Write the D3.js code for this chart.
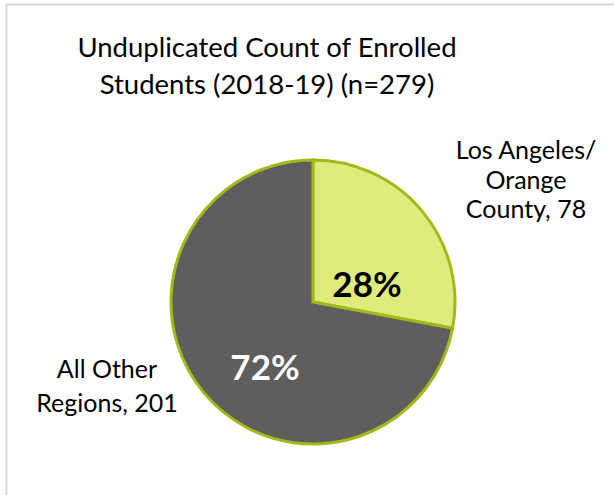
<!DOCTYPE html>
<html>
<head>
<meta charset="utf-8">
<script src="https://cdn.jsdelivr.net/npm/d3@7"></script>
<style>
  html, body { margin: 0; padding: 0; background: #fff; }
  svg { display: block; }
</style>
</head>
<body>
<svg id="chart" width="614" height="495"></svg>
<script>
const titleLines = ["Unduplicated Count of Enrolled", "Students (2018-19) (n=279)"];
const categories = ["Los Angeles/ Orange County", "All Other Regions"];
const labelLines = [["Los Angeles/", "Orange", "County, 78"], ["All Other", "Regions, 201"]];
const values = [78, 201];
const colors = ["#dfeb7b", "#5e5e5e"];
const pctColors = ["#000000", "#ffffff"];

const W = 614, H = 495;
const svg = d3.select("#chart");
const font = "Lato, 'Open Sans', sans-serif";

// outer chart border
svg.append("rect")
  .attr("x", 6.5).attr("y", 4.5)
  .attr("width", W + 10).attr("height", H + 10)
  .attr("fill", "#fff").attr("stroke", "#d9d9d9").attr("stroke-width", 2);

// title
const title = svg.append("text")
  .attr("text-anchor", "middle")
  .attr("font-family", font)
  .attr("font-size", 27.5)
  .attr("fill", "#000");
titleLines.forEach((t, i) => {
  title.append("tspan").attr("x", 267).attr("y", 57 + i * 37).text(t);
});

const cx = 313, cy = 302, r = 142;
const total = d3.sum(values);
const pie = d3.pie().sort(null).value(d => d)(values);
const arc = d3.arc().innerRadius(0).outerRadius(r);

const g = svg.append("g").attr("transform", `translate(${cx},${cy})`);
g.selectAll("path.slice")
  .data(pie)
  .enter().append("path")
  .attr("class", "slice")
  .attr("d", arc)
  .attr("fill", (d, i) => colors[i])
  .attr("stroke", "#a4b919")
  .attr("stroke-width", 3)
  .attr("stroke-linejoin", "miter");

// percentage labels (inside)
const pctPos = [[54, -5], [-48, 78]];
g.selectAll("text.pct")
  .data(pie)
  .enter().append("text")
  .attr("class", "pct")
  .attr("x", (d, i) => pctPos[i][0])
  .attr("y", (d, i) => pctPos[i][1])
  .attr("text-anchor", "middle")
  .attr("font-family", font)
  .attr("font-weight", "bold")
  .attr("font-size", 35)
  .attr("fill", (d, i) => pctColors[i])
  .text(d => Math.round(d.data / total * 100) + "%");

// category labels (outside)
const labelPos = [{x: 526, y: 159, dy: 29.5}, {x: 107, y: 378, dy: 34}];
labelLines.forEach((lines, i) => {
  const t = svg.append("text")
    .attr("text-anchor", "middle")
    .attr("font-family", font)
    .attr("font-size", 25)
    .attr("fill", "#000");
  lines.forEach((ln, j) => {
    t.append("tspan").attr("x", labelPos[i].x).attr("y", labelPos[i].y + j * labelPos[i].dy).text(ln);
  });
});
</script>
</body>
</html>
